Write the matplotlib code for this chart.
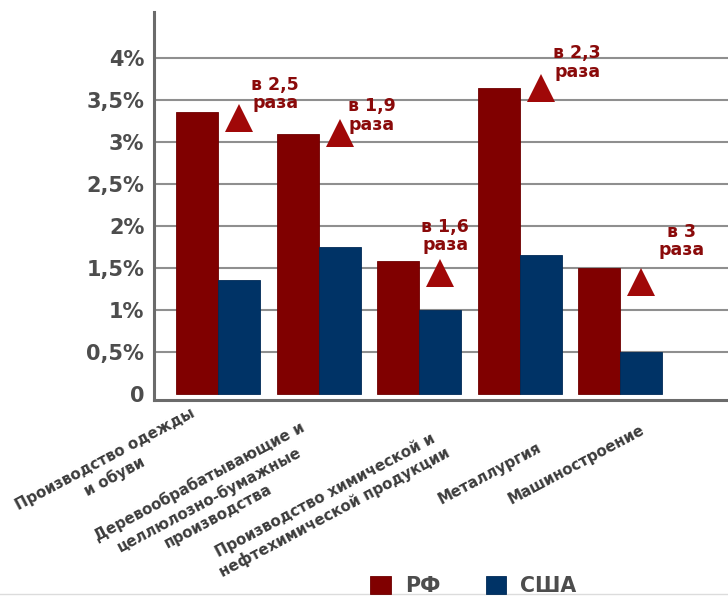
import matplotlib
matplotlib.use("Agg")
import matplotlib.pyplot as plt
import matplotlib.transforms as mtransforms
from matplotlib.lines import Line2D
import numpy as np

# data
categories = ["Производство одежды\nи обуви",
              "Деревообрабатывающие и\nцеллюлозно-бумажные\nпроизводства",
              "Производство химической и\nнефтехимической продукции",
              "Металлургия",
              "Машиностроение"]
rf = [3.36, 3.09, 1.58, 3.64, 1.50]
usa = [1.36, 1.75, 1.00, 1.66, 0.50]
ratio_text = ["в 2,5\nраза", "в 1,9\nраза", "в 1,6\nраза", "в 2,3\nраза", "в 3\nраза"]
marker_y = [3.28, 3.10, 1.44, 3.64, 1.34]
ratio_y = [3.57, 3.31, 1.88, 3.94, 1.82]
yticks = [0, 0.5, 1, 1.5, 2, 2.5, 3, 3.5, 4]
ytick_labels = ["0", "0,5%", "1%", "1,5%", "2%", "2,5%", "3%", "3,5%", "4%"]
series_names = ["РФ", "США"]

RF_COLOR = "#800000"
USA_COLOR = "#003366"
MARK_COLOR = "#a00808"
TEXT_RED = "#8a0a0a"
GRAY = "#4d4d4d"

plt.rcParams['font.family'] = ['DejaVu Sans']

fig = plt.figure(figsize=(7.28, 5.97), dpi=100)
W, H = 728, 597
ax = fig.add_axes([154 / W, 1 - 399.5 / H, 1 - 154 / W, (399.5 - 11.7) / H])

x = np.arange(len(categories))
w = 0.417

ax.bar(x - w / 2, rf, w, color=RF_COLOR, edgecolor="#6e0000", linewidth=0.6,
       label=series_names[0], zorder=3)
ax.bar(x + w / 2, usa, w, color=USA_COLOR, edgecolor="#002a57", linewidth=0.6,
       label=series_names[1], zorder=3)

# triangles over the US bars + "в N раза" notes
ax.plot(x + w / 2, marker_y, linestyle="none", marker="^", ms=20, mew=0,
        color=MARK_COLOR, zorder=4)
label_dx = [0.57, 0.53, 0.26, 0.57, 0.61]
for xi, dx, yy, t in zip(x, label_dx, ratio_y, ratio_text):
    ax.text(xi + dx, yy, t, ha="center", va="center", fontsize=12.5,
            fontweight="bold", color=TEXT_RED, linespacing=1.05, zorder=5)

ax.set_xlim(-0.636, 5.07)
ax.set_ylim(-0.062, 4.547)
ax.set_xticks([])
ax.set_yticks(yticks, ytick_labels)
ax.tick_params(axis="y", length=0, pad=7, labelsize=15, labelcolor=GRAY)
for lab in ax.get_yticklabels():
    lab.set_fontweight("bold")

ax.yaxis.grid(True, color="#8f8f8f", linewidth=1.5)
ax.get_ygridlines()[0].set_visible(False)
ax.set_axisbelow(True)
for s in ["top", "right"]:
    ax.spines[s].set_visible(False)
for s in ["left", "bottom"]:
    ax.spines[s].set_color("#6b6b6b")
    ax.spines[s].set_linewidth(2.2)

# rotated category labels under the axis
trans = mtransforms.blended_transform_factory(ax.transData, fig.transFigure)
cat_dx = [-108, -110, -89, -30, -44]
cat_y = [468, 499, 504, 473, 465]
for xi, dx, yy, name in zip(x, cat_dx, cat_y, categories):
    ax.text(xi + dx / 100.6, 1 - yy / H, name, transform=trans, rotation=28,
            rotation_mode="anchor", ha="center", va="center",
            multialignment="center", fontsize=10.8, fontweight="bold",
            color="#3c3c3c", linespacing=1.3, clip_on=False)

fig.add_artist(Line2D([0, 1], [1 - 594 / H] * 2, transform=fig.transFigure,
                      color="#dcdcdc", linewidth=1, zorder=0))

leg = fig.legend(loc="center left", bbox_to_anchor=(370 / W, 1 - 586 / H),
                 ncol=2, frameon=False, borderpad=0, borderaxespad=0,
                 handlelength=1.0, handleheight=1.0, handletextpad=0.7,
                 columnspacing=2.2, prop={"size": 14.8, "weight": "bold"})
for t in leg.get_texts():
    t.set_color(GRAY)

fig.savefig("out.png", dpi=100, facecolor="white")
